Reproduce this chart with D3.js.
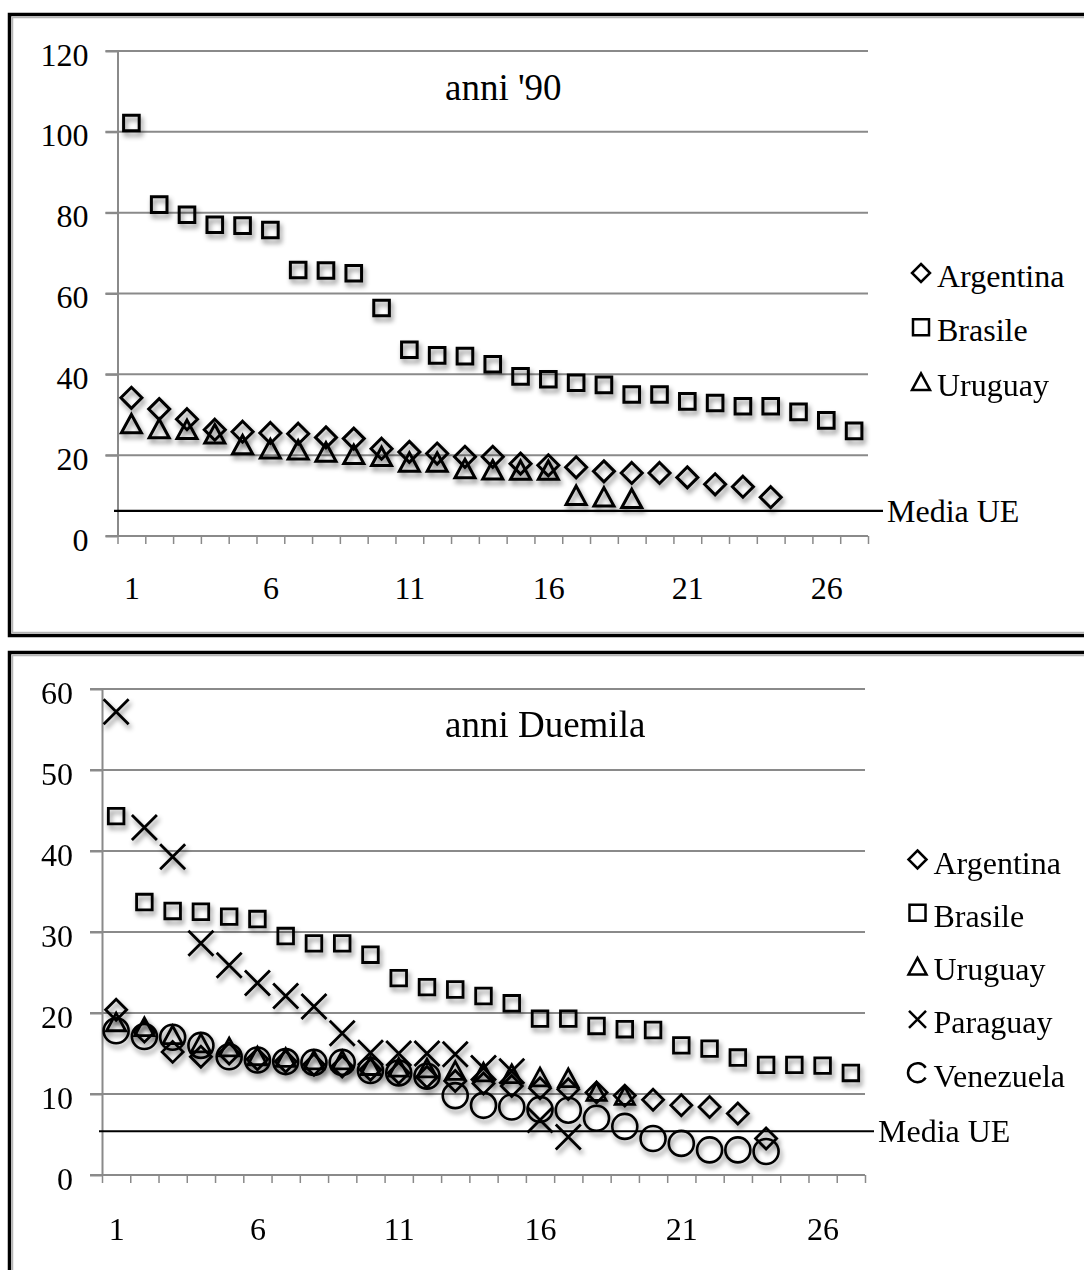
<!DOCTYPE html>
<html>
<head>
<meta charset="utf-8">
<script src="https://cdn.jsdelivr.net/npm/d3@7"></script>
<style>
  html, body { margin: 0; padding: 0; background: #fff; }
  svg { display: block; }
  text { font-family: 'Liberation Serif', 'Times New Roman', serif; fill: #000; }
</style>
</head>
<body>
<div id="chart"></div>
<script>
// categories on the x axis (positions 1..27)
const categories = [1, 2, 3, 4, 5, 6, 7, 8, 9, 10, 11, 12, 13, 14, 15, 16, 17, 18, 19, 20, 21, 22, 23, 24, 25, 26, 27];
const xTickLabels = [1, 6, 11, 16, 21, 26];

// anni '90
const yTicks90 = [0, 20, 40, 60, 80, 100, 120];
const argentina90 = [34.2, 31.4, 28.9, 26.3, 25.8, 25.5, 25.3, 24.4, 24.1, 21.6, 20.8, 20.4, 19.6, 19.6, 17.9, 17.5, 17.0, 16.0, 15.6, 15.6, 14.5, 12.8, 12.2, 9.6];
const brasile90 = [102.2, 82.0, 79.5, 77.0, 76.8, 75.7, 65.8, 65.7, 65.0, 56.4, 46.1, 44.7, 44.5, 42.5, 39.5, 38.8, 37.9, 37.4, 35.0, 35.0, 33.3, 32.9, 32.1, 32.1, 30.7, 28.6, 26.0];
const uruguay90 = [27.8, 26.6, 26.4, 25.3, 22.6, 21.6, 21.3, 20.8, 20.2, 19.7, 18.3, 18.3, 16.7, 16.4, 16.3, 16.3, 10.1, 9.7, 9.3];
const mediaUE90 = 6.2;

// anni Duemila
const yTicks00 = [0, 10, 20, 30, 40, 50, 60];
const argentina00 = [20.4, 17.7, 15.2, 14.6, 15.0, 14.3, 14.0, 13.6, 13.4, 13.0, 12.6, 12.1, 11.6, 11.3, 11.0, 10.7, 10.6, 10.2, 9.8, 9.3, 8.6, 8.4, 7.6, 4.5];
const brasile00 = [44.3, 33.7, 32.6, 32.5, 31.9, 31.6, 29.5, 28.6, 28.6, 27.2, 24.3, 23.2, 22.9, 22.1, 21.2, 19.3, 19.3, 18.4, 18.0, 17.9, 16.0, 15.6, 14.5, 13.6, 13.6, 13.5, 12.6];
const uruguay00 = [18.9, 18.3, 17.3, 16.3, 15.8, 14.7, 14.5, 14.2, 14.2, 13.5, 13.3, 13.2, 12.9, 12.7, 12.5, 12.1, 12.0, 10.3, 9.8];
const paraguay00 = [57.2, 42.9, 39.3, 28.6, 25.9, 23.7, 22.1, 20.8, 17.5, 15.1, 15.0, 15.0, 14.9, 13.2, 12.8, 6.8, 4.7];
const venezuela00 = [17.8, 17.1, 17.0, 16.0, 14.6, 14.2, 14.0, 13.9, 13.9, 12.9, 12.6, 12.2, 9.8, 8.6, 8.4, 8.1, 8.0, 7.0, 6.0, 4.5, 3.9, 3.1, 3.1, 2.9];
const mediaUE00 = 5.4;

const W = 1084;
const H = 1270;

// marker shapes, size = half width in px
const shapes = {
  diamond: { draw(ctx, r) { ctx.moveTo(0, -r); ctx.lineTo(r, 0); ctx.lineTo(0, r); ctx.lineTo(-r, 0); ctx.closePath(); } },
  square: { draw(ctx, r) { ctx.rect(-r, -r, 2 * r, 2 * r); } },
  triangle: { draw(ctx, r) { const h = r * 0.92; ctx.moveTo(0, -h); ctx.lineTo(r, h); ctx.lineTo(-r, h); ctx.closePath(); } },
  cross: { draw(ctx, r) { ctx.moveTo(-r, -r); ctx.lineTo(r, r); ctx.moveTo(r, -r); ctx.lineTo(-r, r); } },
  circle: { draw(ctx, r) { ctx.moveTo(r, 0); ctx.arc(0, 0, r, 0, 2 * Math.PI); } },
  openCircle: { draw(ctx, r) { const a = 0.55; ctx.moveTo(r * Math.cos(a), -r * Math.sin(a)); ctx.arc(0, 0, r, -a, a, true); } },
};

const svg = d3.select('#chart').append('svg')
  .attr('width', W)
  .attr('height', H);

const defs = svg.append('defs');
defs.append('filter')
  .attr('id', 'shadow')
  .attr('x', '-50%').attr('y', '-50%')
  .attr('width', '200%').attr('height', '200%')
  .append('feDropShadow')
  .attr('dx', 2)
  .attr('dy', 4)
  .attr('stdDeviation', 2.5)
  .attr('flood-color', '#000')
  .attr('flood-opacity', 0.45);

function drawPanel(cfg) {
  const g = svg.append('g');

  // frame
  g.append('rect')
    .attr('x', 9.5).attr('y', cfg.frameTop)
    .attr('width', 1200).attr('height', cfg.frameH)
    .attr('fill', '#fff')
    .attr('stroke', '#000')
    .attr('stroke-width', 3.5);
  g.append('rect')
    .attr('x', 12.5).attr('y', cfg.frameTop + 3)
    .attr('width', 1200).attr('height', cfg.frameH - 6)
    .attr('fill', 'none')
    .attr('stroke', '#b5b5b5')
    .attr('stroke-width', 1.5);

  const x = d3.scaleLinear()
    .domain([0.5, categories.length + 0.5])
    .range([cfg.x0, cfg.x1]);
  const y = d3.scaleLinear()
    .domain([0, cfg.yMax])
    .range([cfg.yBottom, cfg.yTop]);

  // gridlines
  g.append('g')
    .selectAll('line')
    .data(cfg.yTicks.filter(d => d > 0))
    .join('line')
    .attr('x1', cfg.x0 - 12).attr('x2', cfg.x1)
    .attr('y1', d => y(d)).attr('y2', d => y(d))
    .attr('stroke', '#8a8a8a')
    .attr('stroke-width', 2);

  // y axis
  const yAxis = g.append('g')
    .attr('transform', `translate(${cfg.x0}, 0)`)
    .call(d3.axisLeft(y).tickValues(cfg.yTicks).tickSizeInner(12).tickSizeOuter(0).tickPadding(cfg.yPad));
  yAxis.select('.domain').attr('stroke', '#8a8a8a').attr('stroke-width', 2);
  yAxis.selectAll('.tick line').attr('stroke', '#8a8a8a').attr('stroke-width', 2);
  yAxis.selectAll('text')
    .attr('font-family', 'Liberation Serif')
    .attr('font-size', 32)
    .attr('dy', '0.44em');

  // x axis: tick marks between categories
  const bounds = categories.map(c => c - 0.5).concat([categories.length + 0.5]);
  const xAxis = g.append('g')
    .attr('transform', `translate(0, ${cfg.yBottom})`)
    .call(d3.axisBottom(x).tickValues(bounds).tickSizeInner(8).tickSizeOuter(0).tickFormat(''));
  xAxis.select('.domain').attr('stroke', '#8a8a8a').attr('stroke-width', 2)
    .attr('d', `M${cfg.x0 - 12},0H${cfg.x1}`);
  xAxis.selectAll('.tick line').attr('stroke', '#8a8a8a').attr('stroke-width', 1.5);

  const xLabels = g.append('g')
    .attr('transform', `translate(0, ${cfg.yBottom})`)
    .call(d3.axisBottom(x).tickValues(xTickLabels).tickSize(0).tickFormat(d3.format('d')));
  xLabels.select('.domain').remove();
  xLabels.selectAll('text')
    .attr('font-family', 'Liberation Serif')
    .attr('font-size', 32)
    .attr('y', cfg.xLabelDy)
    .attr('dy', 0);

  // Media UE line
  g.append('line')
    .attr('x1', cfg.meanStart).attr('x2', cfg.meanEnd)
    .attr('y1', y(cfg.mean)).attr('y2', y(cfg.mean))
    .attr('stroke', '#000')
    .attr('stroke-width', 2.2);
  g.append('text')
    .attr('x', cfg.meanEnd + 4)
    .attr('y', y(cfg.mean) + 11)
    .attr('font-size', 32)
    .text('Media UE');

  // title
  g.append('text')
    .attr('x', 445)
    .attr('y', cfg.titleY)
    .attr('font-size', 37)
    .text(cfg.title);

  // series markers
  cfg.series.forEach(s => {
    g.append('g')
      .attr('filter', 'url(#shadow)')
      .selectAll('path')
      .data(s.values)
      .join('path')
      .attr('transform', (d, i) => `translate(${x(categories[i])}, ${y(d)})`)
      .attr('d', d3.symbol().type(shapes[s.shape]).size(s.r))
      .attr('fill', 'none')
      .attr('stroke', '#000')
      .attr('stroke-width', s.sw);
  });

  // legend
  const leg = g.append('g');
  cfg.series.forEach((s, i) => {
    const ly = cfg.legendY + i * cfg.legendStep;
    leg.append('path')
      .attr('transform', `translate(${cfg.legendX}, ${ly})`)
      .attr('d', d3.symbol().type(shapes[s.legendShape || s.shape]).size(s.lr))
      .attr('fill', 'none')
      .attr('stroke', '#000')
      .attr('stroke-width', 2.5);
    leg.append('text')
      .attr('x', cfg.legendX + 16)
      .attr('y', ly + 14)
      .attr('font-size', 32)
      .text(s.name);
  });
}

drawPanel({
  frameTop: 14.5, frameH: 621,
  x0: 117.5, x1: 868, yTop: 51, yBottom: 536, yMax: 120,
  yTicks: yTicks90, yPad: 17, xLabelDy: 63,
  mean: mediaUE90, meanStart: 114, meanEnd: 883,
  title: "anni '90", titleY: 100,
  legendX: 921, legendY: 273, legendStep: 54.3,
  series: [
    { name: 'Argentina', values: argentina90, shape: 'diamond', r: 10.5, sw: 3, lr: 9 },
    { name: 'Brasile', values: brasile90, shape: 'square', r: 7.8, sw: 3, lr: 8 },
    { name: 'Uruguay', values: uruguay90, shape: 'triangle', r: 10, sw: 3, lr: 9 },
  ],
});

drawPanel({
  frameTop: 652.5, frameH: 700,
  x0: 102, x1: 865, yTop: 689, yBottom: 1175, yMax: 60,
  yTicks: yTicks00, yPad: 17, xLabelDy: 65,
  mean: mediaUE00, meanStart: 99, meanEnd: 874,
  title: 'anni Duemila', titleY: 737,
  legendX: 917.5, legendY: 859.5, legendStep: 53.3,
  series: [
    { name: 'Argentina', values: argentina00, shape: 'diamond', r: 10.5, sw: 2.8, lr: 9 },
    { name: 'Brasile', values: brasile00, shape: 'square', r: 7.8, sw: 2.8, lr: 8 },
    { name: 'Uruguay', values: uruguay00, shape: 'triangle', r: 9.6, sw: 2.8, lr: 9 },
    { name: 'Paraguay', values: paraguay00, shape: 'cross', r: 12.5, sw: 2.8, lr: 8.5 },
    { name: 'Venezuela', values: venezuela00, shape: 'circle', r: 12.5, sw: 2.6, lr: 9.5, legendShape: 'openCircle' },
  ],
});
</script>
</body>
</html>
